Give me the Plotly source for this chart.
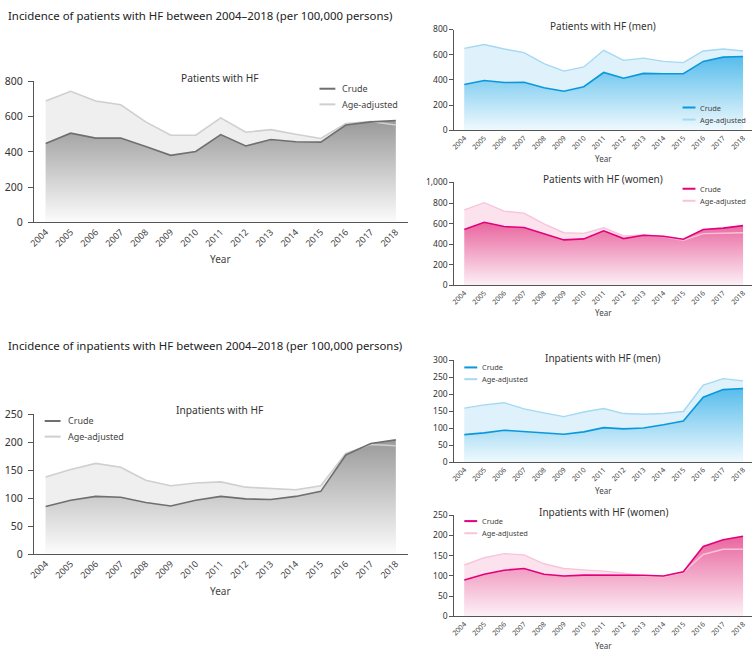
import plotly.graph_objects as go

years = list(range(2004, 2019))
year_labels = [str(y) for y in years]

pat_crude = [448, 506, 478, 478, 430, 380, 402, 498, 433, 470, 457, 455, 552, 570, 578]
pat_adj = [689, 744, 689, 667, 570, 494, 494, 593, 511, 526, 500, 476, 561, 572, 552]
pat_men_crude = [364, 395, 379, 382, 338, 310, 346, 459, 413, 452, 449, 449, 547, 581, 586]
pat_men_adj = [650, 681, 645, 617, 529, 470, 503, 635, 555, 573, 547, 537, 630, 645, 630]
pat_women_crude = [543, 613, 571, 562, 502, 441, 451, 530, 454, 486, 476, 448, 543, 556, 580]
pat_women_adj = [733, 803, 721, 702, 597, 511, 505, 559, 479, 489, 473, 437, 502, 508, 510]
inp_crude = [85, 96, 103, 101.5, 92, 86, 96, 103, 98.6, 97.4, 103, 112, 177, 197.5, 204]
inp_adj = [137.5, 151, 162, 155, 132, 122, 127, 129, 119.5, 117, 115, 122, 180, 195.6, 193.5]
inp_men_crude = [81, 86, 94, 90, 86, 82, 89, 101.5, 98, 100.6, 110, 121, 191, 213.6, 217]
inp_men_adj = [159, 168.6, 175, 157, 145, 134, 147.5, 158, 143, 141, 143, 149, 227, 246, 239.5]
inp_women_crude = [90, 104, 114, 118.5, 104, 100, 102, 102, 101.6, 101.6, 100, 110.5, 173, 189.5, 198]
inp_women_adj = [127, 145, 155, 152, 130, 118.5, 115, 112, 107, 100, 98, 109, 153, 166, 166]

section_titles = ["Incidence of patients with HF between 2004\u20132018 (per 100,000 persons)",
                  "Incidence of inpatients with HF between 2004\u20132018 (per 100,000 persons)"]

W, H = 753, 656
def px(x): return x / W
def py(y): return 1 - y / H

gray = dict(crude_line="#6f6f6f", adj_line="#cfcfcf", adj_fill="#efefef", grad_top="#9a9a9a", grad_bot="#ffffff")
blue = dict(crude_line="#0a98dc", adj_line="#a3d9f3", adj_fill="#dff1fb", grad_top="#58bdec", grad_bot="#f4fbfe")
pink = dict(crude_line="#e4007c", adj_line="#f8c4da", adj_fill="#fbe2ed", grad_top="#e9669f", grad_bot="#fdf5f9")

panels = [
    dict(title="Patients with HF", crude=pat_crude, adj=pat_adj, col=gray,
         x0=28, x1=405, yb=220, yt=76, ymax=800, dt=200, big=True,
         tx=216, ty=72.5, yearY=257.3, leg=(316, 332, 337, 83.5, 99.5)),
    dict(title="Patients with HF (men)", crude=pat_men_crude, adj=pat_men_adj, col=blue,
         x0=452, x1=752, yb=126, yt=23, ymax=800, dt=200, big=False,
         tx=602, ty=19, yearY=155, leg=(682, 695, 698, 102.7, 115)),
    dict(title="Patients with HF (women)", crude=pat_women_crude, adj=pat_women_adj, col=pink,
         x0=452, x1=752, yb=284.3, yt=179.3, ymax=1000, dt=200, big=False,
         tx=602, ty=176, yearY=312, leg=(682, 695, 698, 185.7, 198)),
    dict(title="Inpatients with HF", crude=inp_crude, adj=inp_adj, col=gray,
         x0=28, x1=405, yb=559, yt=416, ymax=250, dt=50, big=True,
         tx=216, ty=411.7, yearY=596.7, leg=(39, 55, 60, 423, 439)),
    dict(title="Inpatients with HF (men)", crude=inp_men_crude, adj=inp_men_adj, col=blue,
         x0=452, x1=752, yb=465, yt=361, ymax=300, dt=50, big=False,
         tx=602, ty=358.3, yearY=494, leg=(462, 475, 478, 368.3, 380.3)),
    dict(title="Inpatients with HF (women)", crude=inp_women_crude, adj=inp_women_adj, col=pink,
         x0=452, x1=752, yb=622.7, yt=519.3, ymax=250, dt=50, big=False,
         tx=602, ty=516, yearY=652.3, leg=(462, 475, 478, 525.3, 537.7)),
]

FONT = "Noto Sans"
fig = go.Figure()
annotations = []
shapes = []
layout_axes = {}

for i, p in enumerate(panels, start=1):
    xa = "x" if i == 1 else f"x{i}"
    ya = "y" if i == 1 else f"y{i}"
    c = p["col"]
    if p["big"]:
        first_px, step_px = 40, 25.21
    else:
        first_px, step_px = 462, 20.07
    xr0 = 2004 - (first_px - p["x0"]) / step_px
    xr1 = 2004 + (p["x1"] - first_px) / step_px
    fig.add_trace(go.Scatter(x=years, y=p["adj"], xaxis=xa, yaxis=ya, mode="lines",
                             line=dict(width=0, color=c["adj_fill"]), fill="tozeroy",
                             fillcolor=c["adj_fill"], showlegend=False, hoverinfo="skip"))
    fig.add_trace(go.Scatter(x=years, y=p["crude"], xaxis=xa, yaxis=ya, mode="lines",
                             line=dict(width=0, color=c["grad_top"]), fill="tozeroy",
                             fillgradient=dict(type="vertical", start=0, stop=max(p["crude"]),
                                               colorscale=[[0, c["grad_bot"]], [1, c["grad_top"]]]),
                             showlegend=False, hoverinfo="skip"))
    fig.add_trace(go.Scatter(x=years, y=p["adj"], xaxis=xa, yaxis=ya, mode="lines",
                             name="Age-adjusted", line=dict(width=1.6 if p["big"] else 1.4, color=c["adj_line"]),
                             showlegend=False))
    fig.add_trace(go.Scatter(x=years, y=p["crude"], xaxis=xa, yaxis=ya, mode="lines",
                             name="Crude", line=dict(width=1.6, color=c["crude_line"]),
                             showlegend=False))
    tf = 9 if p["big"] else 7
    yf = 10.5 if p["big"] else 8.5
    layout_axes["xaxis" if i == 1 else f"xaxis{i}"] = dict(
        domain=[px(p["x0"]), px(p["x1"])], anchor=ya, range=[xr0, xr1],
        tickvals=years, ticktext=year_labels, tickangle=-45,
        tickfont=dict(size=tf, color="#444", family=FONT),
        showline=True, linecolor="#555", linewidth=1, showgrid=False, zeroline=False,
        ticks="", fixedrange=True)
    layout_axes["yaxis" if i == 1 else f"yaxis{i}"] = dict(
        domain=[py(p["yb"]), py(p["yt"])], anchor=xa, range=[0, p["ymax"]],
        tick0=0, dtick=p["dt"], tickformat=",",
        tickfont=dict(size=yf, color="#333", family=FONT),
        showline=True, linecolor="#555", linewidth=1, showgrid=False, zeroline=False,
        ticks="outside", ticklen=5 if p["big"] else 4, tickcolor="#555",
        ticklabelstandoff=3 if p["big"] else 0, fixedrange=True)
    annotations.append(dict(text=p["title"], x=px(p["tx"]), y=py(p["ty"]), xref="paper", yref="paper",
                            xanchor="center", yanchor="middle", showarrow=False,
                            font=dict(size=10.2 if p["big"] else 10, color="#333", family=FONT)))
    annotations.append(dict(text="Year", x=px(216 if p["big"] else 602),
                            y=py(p["yearY"]), xref="paper", yref="paper",
                            xanchor="center", yanchor="middle", showarrow=False,
                            font=dict(size=10 if p["big"] else 8, color="#444", family=FONT)))
    lx0, lx1, tx, ly1, ly2 = p["leg"]
    lf = 9 if p["big"] else 7.4
    for name, ly, colr in (("Crude", ly1, c["crude_line"]), ("Age-adjusted", ly2, c["adj_line"])):
        shapes.append(dict(type="line", xref="paper", yref="paper", x0=px(lx0), x1=px(lx1),
                           y0=py(ly), y1=py(ly), line=dict(color=colr, width=2)))
        annotations.append(dict(text=name, x=px(tx), y=py(ly), xref="paper", yref="paper",
                                xanchor="left", yanchor="middle", showarrow=False,
                                font=dict(size=lf, color="#444", family=FONT)))

annotations.append(dict(text=section_titles[0], x=px(0), y=py(8.5), xref="paper", yref="paper",
                        xanchor="left", yanchor="middle", showarrow=False,
                        font=dict(size=11.4, color="#222", family=FONT)))
annotations.append(dict(text=section_titles[1], x=px(0), y=py(345.7), xref="paper", yref="paper",
                        xanchor="left", yanchor="middle", showarrow=False,
                        font=dict(size=11.4, color="#222", family=FONT)))

fig.update_layout(width=W, height=H, margin=dict(l=0, r=0, t=0, b=0),
                  paper_bgcolor="white", plot_bgcolor="white",
                  font=dict(family=FONT), showlegend=False,
                  annotations=annotations, shapes=shapes, **layout_axes)

fig.write_html("out.html", config={"displayModeBar": False},
               post_script="document.body.style.margin='0';document.body.style.overflow='hidden';")
